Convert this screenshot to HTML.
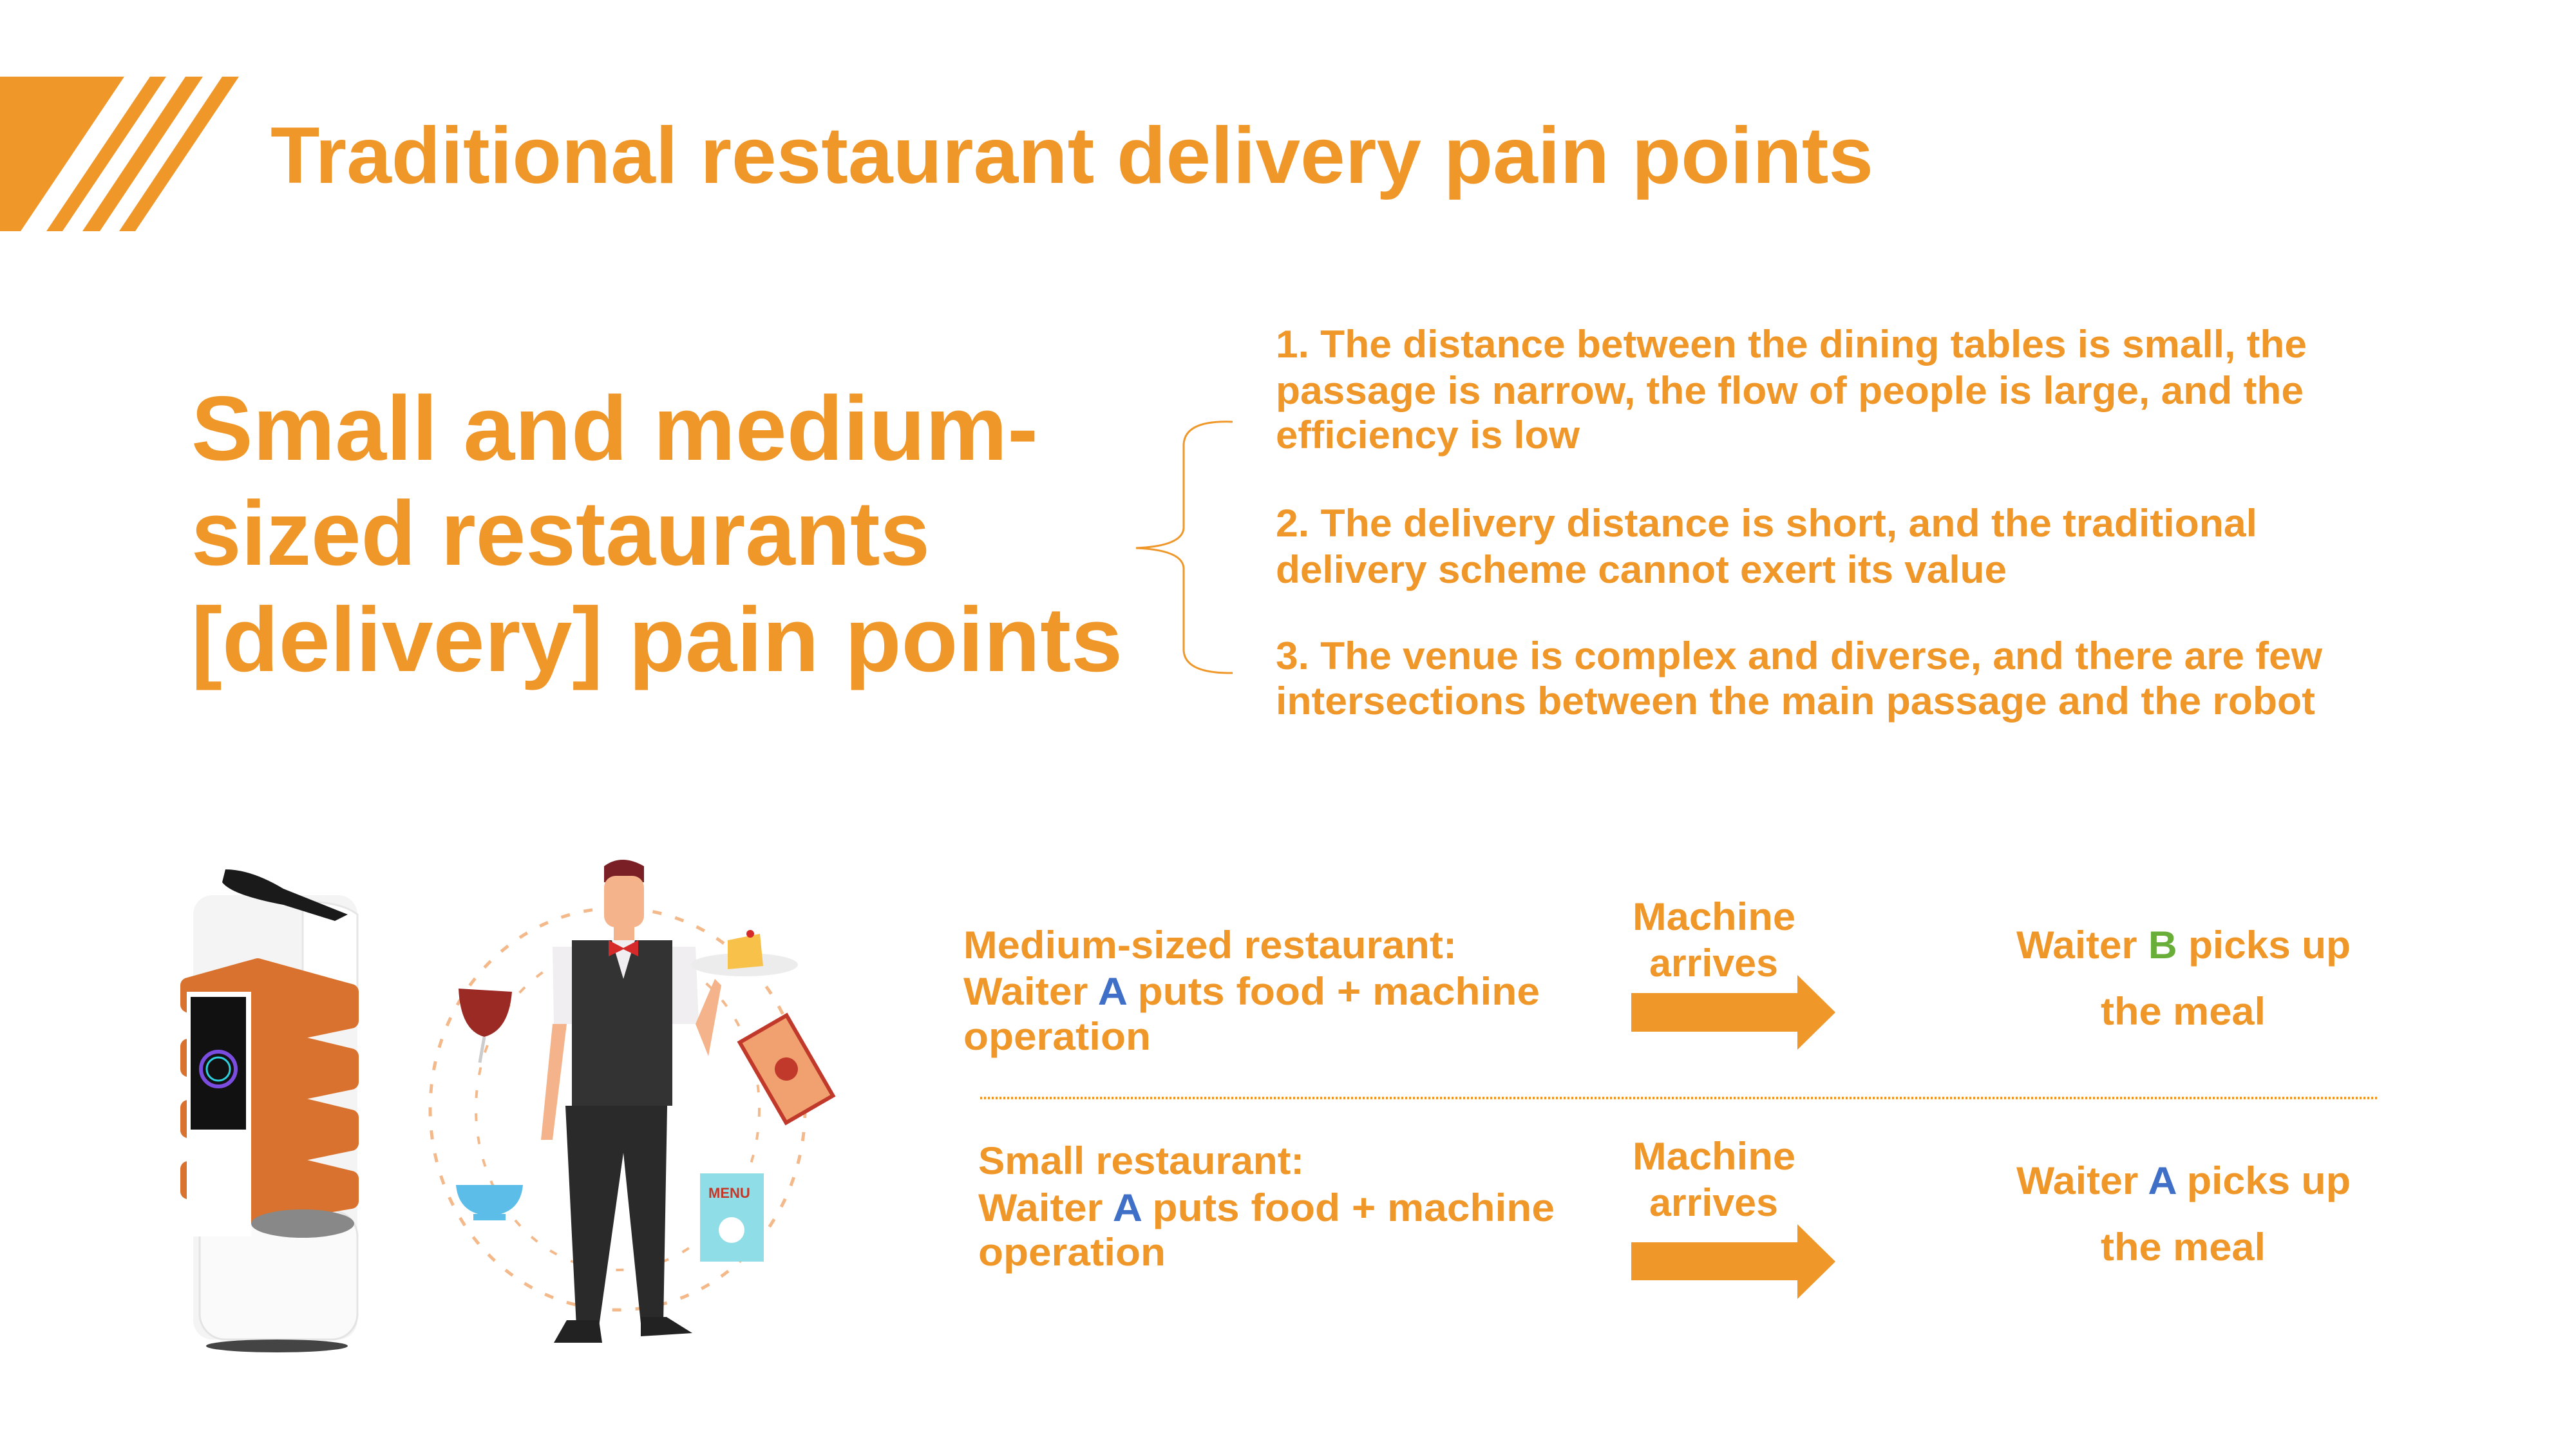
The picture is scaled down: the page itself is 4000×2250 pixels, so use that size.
<!DOCTYPE html>
<html><head><meta charset="utf-8"><style>
html,body{margin:0;padding:0;background:#fff}
svg{display:block}
text{font-family:"Liberation Sans",sans-serif;font-weight:bold;fill:#F0972A}
</style></head><body>
<svg width="4000" height="2250" viewBox="0 0 4000 2250" xmlns="http://www.w3.org/2000/svg">
<g fill="#F0972A">
<polygon points="0,119 193,119 32,359 0,359"/>
<polygon points="233,119 258,119 97,359 72,359"/>
<polygon points="288,119 315,119 155,359 128,359"/>
<polygon points="345,119 371,119 210,359 185,359"/>
</g>
<text x="420" y="284" font-size="124" textLength="2489" lengthAdjust="spacingAndGlyphs">Traditional restaurant delivery pain points</text>

<text x="297" y="714" font-size="142" textLength="1315" lengthAdjust="spacingAndGlyphs">Small and medium-</text>
<text x="297" y="877" font-size="142" textLength="1147" lengthAdjust="spacingAndGlyphs">sized restaurants</text>
<text x="297" y="1042" font-size="142" textLength="1446" lengthAdjust="spacingAndGlyphs">[delivery] pain points</text>

<path d="M1914,655 Q1840,652 1838,690 L1838,820 Q1836,848 1764,851 Q1836,854 1838,882 L1838,1010 Q1840,1046 1914,1045" fill="none" stroke="#F0972A" stroke-width="3"/>

<g font-size="60">
<text x="1981" y="555" textLength="1601" lengthAdjust="spacingAndGlyphs">1. The distance between the dining tables is small, the</text>
<text x="1981" y="627" textLength="1596" lengthAdjust="spacingAndGlyphs">passage is narrow, the flow of people is large, and the</text>
<text x="1981" y="696" textLength="472" lengthAdjust="spacingAndGlyphs">efficiency is low</text>
<text x="1981" y="833" textLength="1524" lengthAdjust="spacingAndGlyphs">2. The delivery distance is short, and the traditional</text>
<text x="1981" y="905" textLength="1135" lengthAdjust="spacingAndGlyphs">delivery scheme cannot exert its value</text>
<text x="1981" y="1039" textLength="1625" lengthAdjust="spacingAndGlyphs">3. The venue is complex and diverse, and there are few</text>
<text x="1981" y="1109" textLength="1614" lengthAdjust="spacingAndGlyphs">intersections between the main passage and the robot</text>

<text x="1496" y="1488" textLength="766" lengthAdjust="spacingAndGlyphs">Medium-sized restaurant:</text>
<text x="1496" y="1560" textLength="895" lengthAdjust="spacingAndGlyphs">Waiter <tspan fill="#3F6FC6">A</tspan> puts food + machine</text>
<text x="1496" y="1630" textLength="291" lengthAdjust="spacingAndGlyphs">operation</text>

<text x="1519" y="1823" textLength="506" lengthAdjust="spacingAndGlyphs">Small restaurant:</text>
<text x="1519" y="1896" textLength="895" lengthAdjust="spacingAndGlyphs">Waiter <tspan fill="#3F6FC6">A</tspan> puts food + machine</text>
<text x="1519" y="1965" textLength="291" lengthAdjust="spacingAndGlyphs">operation</text>

<text x="2535" y="1444" textLength="253" lengthAdjust="spacingAndGlyphs">Machine</text>
<text x="2561" y="1516" textLength="200" lengthAdjust="spacingAndGlyphs">arrives</text>
<text x="2535" y="1816" textLength="253" lengthAdjust="spacingAndGlyphs">Machine</text>
<text x="2561" y="1888" textLength="200" lengthAdjust="spacingAndGlyphs">arrives</text>

<text x="3131" y="1488" textLength="519" lengthAdjust="spacingAndGlyphs">Waiter <tspan fill="#6AAE3A">B</tspan> picks up</text>
<text x="3262" y="1591" textLength="256" lengthAdjust="spacingAndGlyphs">the meal</text>
<text x="3131" y="1854" textLength="519" lengthAdjust="spacingAndGlyphs">Waiter <tspan fill="#3F6FC6">A</tspan> picks up</text>
<text x="3262" y="1957" textLength="256" lengthAdjust="spacingAndGlyphs">the meal</text>
</g>

<g fill="#F0972A">
<polygon points="2533,1542 2791,1542 2791,1514 2850,1572 2791,1630 2791,1602 2533,1602"/>
<polygon points="2533,1929 2791,1929 2791,1901 2850,1959 2791,2017 2791,1988 2533,1988"/>
</g>
<line x1="1522" y1="1705" x2="3691" y2="1705" stroke="#F0972A" stroke-width="4" stroke-dasharray="3,3"/>

<!-- robot -->
<g>
<rect x="300" y="1390" width="255" height="690" rx="30" fill="#f4f4f4"/>
<path d="M470,1400 Q530,1400 555,1420 L555,1560 L470,1560Z" fill="#fff" stroke="#e6e6e6" stroke-width="3"/>
<path d="M350,1350 Q390,1350 440,1380 L540,1420 L520,1430 L440,1405 Q360,1390 345,1370Z" fill="#1a1a1a"/>
<rect x="310" y="1880" width="245" height="200" rx="40" fill="#fafafa" stroke="#e4e4e4" stroke-width="3"/>
<ellipse cx="430" cy="2090" rx="110" ry="10" fill="#444"/>
<g fill="#D9722E" stroke="#D9722E" stroke-width="24" stroke-linejoin="round">
<path d="M292,1530 L400,1500 L545,1540 L545,1585 L400,1615 L292,1560 Z"/>
<path d="M292,1625 L400,1605 L545,1640 L545,1680 L400,1710 L292,1660 Z"/>
<path d="M292,1720 L400,1700 L545,1735 L545,1775 L400,1805 L292,1755 Z"/>
<path d="M292,1815 L400,1795 L545,1830 L545,1865 L400,1890 L292,1850 Z"/>
</g>
<ellipse cx="470" cy="1900" rx="80" ry="22" fill="#888"/>
<rect x="290" y="1540" width="100" height="380" fill="#fff"/>
<rect x="296" y="1548" width="86" height="206" fill="#111"/>
<circle cx="339" cy="1660" r="27" fill="none" stroke="#7a4de0" stroke-width="6"/>
<circle cx="339" cy="1660" r="18" fill="none" stroke="#2ed0e0" stroke-width="3"/>
</g>

<!-- waiter scene -->
<ellipse cx="959" cy="1722" rx="291" ry="312" fill="none" stroke="#F3B98A" stroke-width="5" stroke-dasharray="14,22"/>
<ellipse cx="959" cy="1722" rx="220" ry="250" fill="none" stroke="#F3B98A" stroke-width="4" stroke-dasharray="12,24"/>
<path d="M938,1345 Q965,1325 1000,1345 L1000,1370 L938,1370Z" fill="#7a1f25"/>
<rect x="938" y="1360" width="62" height="80" rx="18" fill="#F4B38A"/>
<rect x="953" y="1425" width="32" height="35" fill="#F4B38A"/>
<path d="M858,1470 L1080,1470 L1085,1590 L860,1590Z" fill="#f0eef0"/>
<path d="M858,1590 L840,1770 L858,1770 L880,1590Z" fill="#F4B38A"/>
<path d="M1080,1590 L1100,1640 L1120,1530 L1110,1520Z" fill="#F4B38A"/>
<path d="M888,1460 L1044,1460 L1044,1717 L888,1717Z" fill="#333"/>
<path d="M950,1460 L968,1520 L986,1460Z" fill="#f0eef0"/>
<polygon points="945,1460 968,1472 991,1460 991,1485 968,1474 945,1485" fill="#d62a2a"/>
<path d="M878,1717 L1036,1717 L1030,2055 L995,2055 L968,1790 L930,2060 L895,2060Z" fill="#2a2a2a"/>
<path d="M880,2050 L930,2050 L935,2085 L860,2085Z" fill="#222"/>
<path d="M995,2045 L1035,2045 L1075,2070 L995,2075Z" fill="#222"/>
<ellipse cx="1156" cy="1498" rx="83" ry="18" fill="#ececec"/>
<path d="M1130,1460 L1180,1450 L1185,1500 L1130,1505Z" fill="#F8C24A"/>
<circle cx="1165" cy="1450" r="6" fill="#d62a2a"/>
<path d="M712,1535 L795,1540 Q790,1600 752,1610 Q715,1600 712,1535Z" fill="#9c2a24"/>
<line x1="752" y1="1610" x2="745" y2="1650" stroke="#ccc" stroke-width="5"/>
<path d="M708,1840 L812,1840 Q808,1885 760,1888 Q712,1885 708,1840Z" fill="#5bbde8"/>
<rect x="735" y="1885" width="50" height="10" fill="#5bbde8"/>
<rect x="1087" y="1822" width="99" height="137" fill="#8fdde6"/>
<text x="1100" y="1860" font-size="22" style="fill:#c0392b">MENU</text>
<circle cx="1136" cy="1910" r="20" fill="#fff"/>
<g transform="translate(1221,1660) rotate(-30)"><rect x="-42" y="-72" width="84" height="144" fill="#F1A070" stroke="#c0392b" stroke-width="6"/><circle cx="0" cy="0" r="18" fill="#c0392b"/></g>
</svg>
</body></html>
